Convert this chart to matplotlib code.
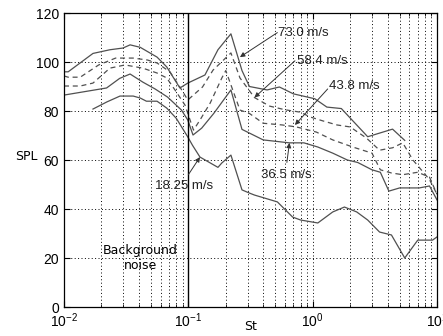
import matplotlib
matplotlib.use('Agg')
import matplotlib.pyplot as plt

plt.rcParams['font.family'] = ['Liberation Sans', 'DejaVu Sans']
plt.rcParams['mathtext.default'] = 'regular'

# values (St, SPL in dB)
st_73 = [0.01, 0.0108, 0.0171, 0.0234, 0.0298, 0.034, 0.041, 0.056, 0.067, 0.0855,
         0.099, 0.136, 0.173, 0.22, 0.27, 0.31, 0.43, 0.54, 0.7, 1.04, 1.3, 1.7,
         2.77, 4.39, 5.5]
spl_73 = [96, 96, 103.5, 105, 105.7, 107, 106, 102, 98, 89.4,
          91.4, 94.7, 105, 111.5, 96.5, 90, 88.6, 89.8, 87, 85, 81.6, 81,
          69.5, 72.6, 68]

st_58 = [0.01, 0.0108, 0.0135, 0.019, 0.026, 0.036, 0.047, 0.056, 0.071, 0.0855,
         0.099, 0.13, 0.158, 0.22, 0.26, 0.34, 0.45, 0.6, 0.8, 0.95, 1.2, 1.57,
         2.0, 2.7, 3.45, 4.4, 5.3, 6.4, 8.7, 10]
spl_58 = [94.3, 93.8, 93.8, 98.8, 101.6, 101.6, 100.8, 99.6, 96, 89.8,
          84.5, 89.8, 96.7, 103.7, 93.5, 85.5, 82, 80.5, 79.5, 77.6, 76, 74.3,
          73.5, 69, 64, 65, 67, 60, 52, 46]

st_43 = [0.01, 0.0135, 0.0171, 0.0234, 0.031, 0.043, 0.056, 0.067, 0.08, 0.094,
         0.11, 0.124, 0.15, 0.186, 0.2, 0.26, 0.31, 0.4, 0.57, 0.74, 1.07, 1.45,
         2.1, 3.0, 3.5, 4.3, 5.3, 7.0, 8.7, 10]
spl_43 = [90.2, 90.2, 91.4, 97.5, 98.8, 97.5, 95.5, 93.5, 87.8, 82.4,
          72.2, 76.3, 83.3, 93.5, 96.5, 80.4, 79, 75, 74.3, 73.5, 71.4, 68.2,
          65.3, 62.8, 56, 54.7, 54, 55, 53, 46]

st_36 = [0.01, 0.022, 0.028, 0.034, 0.043, 0.054, 0.068, 0.088, 0.099, 0.109,
         0.128, 0.16, 0.22, 0.27, 0.4, 0.65, 0.85, 1.1, 1.45, 1.9, 2.3, 3.0,
         3.5, 4.1, 5.0, 7.2, 8.7, 10]
spl_36 = [86.5, 89.4, 93.3, 95.1, 91.8, 89, 85.7, 80.4, 76.3, 70.2,
          73, 79, 88.6, 72.5, 68.2, 67, 67, 65.3, 62.8, 60, 59, 56,
          55, 47.3, 48.6, 48.6, 49.4, 43.7]

st_18 = [0.0171, 0.0221, 0.0282, 0.036, 0.041, 0.046, 0.056, 0.067, 0.08, 0.099,
         0.108, 0.124, 0.173, 0.186, 0.22, 0.27, 0.31, 0.34, 0.52, 0.69, 0.8,
         1.1, 1.45, 1.8, 2.26, 2.77, 3.45, 4.3, 5.5, 7.0, 9.2, 10]
spl_18 = [80.8, 83.7, 86.1, 86.1, 85.3, 84, 84, 81.2, 77, 69.4,
          66, 61.2, 57, 58.8, 62, 47.8, 46.5, 45.7, 42.9, 36.7, 35.5,
          34.3, 38.8, 40.8, 38.8, 35.5, 30.6, 29.4, 20, 27.3, 27.3, 28.6]

# label text, text position, arrow tail and tip
labels = ['73.0 m/s', '58.4 m/s', '43.8 m/s', '36.5 m/s', '18.25 m/s']
label_xy = [(0.53, 112), (0.75, 100.5), (1.35, 90.2), (0.385, 54), (0.0535, 49.5)]
tail_xy = [(0.52, 112), (0.72, 100.5), (1.32, 89), (0.62, 59), (0.1, 54)]
tip_xy = [(0.26, 102), (0.34, 85.5), (0.72, 74.3), (0.65, 67), (0.124, 61.2)]

fig = plt.figure(figsize=(4.43, 3.36), dpi=100)
ax = fig.add_axes([0.1445, 0.0863, 0.8420, 0.8750])

lc = '#505050'
ax.plot(st_73, spl_73, color=lc, lw=0.9)
ax.plot(st_58, spl_58, color=lc, lw=0.9, dashes=(4, 3))
ax.plot(st_43, spl_43, color=lc, lw=0.9, dashes=(4, 3))
ax.plot(st_36, spl_36, color=lc, lw=0.9)
ax.plot(st_18, spl_18, color=lc, lw=0.9)

ax.axvline(0.099, color='black', lw=1.0)

ax.set_xscale('log')
ax.set_xlim(0.01, 10)
ax.set_ylim(0, 120)
ax.set_yticks(range(0, 121, 20))
ax.grid(True, which='both', axis='x', color='black', ls=(0, (1, 2.5)), lw=0.7)
ax.grid(True, which='major', axis='y', color='black', ls=(0, (1, 2.5)), lw=0.7)
ax.tick_params(which='both', direction='in', labelsize=10, top=True, right=True)
ax.tick_params(which='major', length=4)
ax.tick_params(which='minor', length=2)
for s in ax.spines.values():
    s.set_linewidth(0.9)

for txt, xy, tip, tail in zip(labels, label_xy, tip_xy, tail_xy):
    ax.text(xy[0], xy[1], txt, fontsize=9.5, va='center', ha='left', color='#222222')
    ax.annotate('', xy=tip, xytext=tail,
                arrowprops=dict(arrowstyle='-|>', color='#333333', lw=0.7,
                                mutation_scale=7, shrinkA=0, shrinkB=0))

ax.text(0.041, 20, 'Background\nnoise', fontsize=9, ha='center', va='center',
        family=['DejaVu Sans'], linespacing=1.25)

ax.set_xlabel('St', family=['DejaVu Sans'], fontsize=9)
ax.xaxis.set_label_coords(0.5, -0.045)
ax.set_ylabel('SPL', family=['DejaVu Sans'], fontsize=9, rotation=0)
ax.yaxis.set_label_coords(-0.1, 0.49)

fig.savefig('out.png', dpi=100)
